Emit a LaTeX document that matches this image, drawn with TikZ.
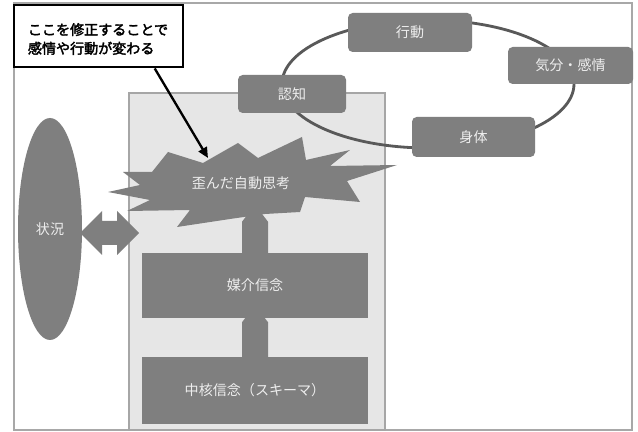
\documentclass[tikz,border=0pt]{standalone}
\usepackage{fontspec}
\newfontfamily\jp{Noto Sans CJK JP}
\newfontfamily\jpb{Noto Sans CJK JP}[FakeBold=2.5]
\usetikzlibrary{shapes.geometric,calc,arrows.meta}
\definecolor{boxgray}{HTML}{7F7F7F}
\definecolor{txtw}{HTML}{EEEEEE}
\definecolor{lightfill}{HTML}{E6E6E6}
\definecolor{lightedge}{HTML}{A6A6A6}
\definecolor{frameedge}{HTML}{A8A8A8}
\definecolor{cycleline}{HTML}{595959}
\begin{document}
\begin{tikzpicture}[x=0.03cm,y=-0.03cm,
  rbox/.style={rectangle,rounded corners=4pt,fill=boxgray,text=txtw,font=\jp\fontsize{12}{14}\selectfont,inner sep=0pt},
  sbox/.style={rectangle,fill=boxgray,text=txtw,font=\jp\fontsize{12}{14}\selectfont,inner sep=0pt,minimum width=226*0.03cm},
  blockarrow/.style={fill=boxgray}]
\useasboundingbox (0,0) rectangle (638,432);
\fill[white] (0,0) rectangle (638,432);
\draw[frameedge,line width=2pt] (14,3) rectangle (632,430);
% light box
\node[draw=lightedge,fill=lightfill,line width=1pt,minimum width=256*0.03cm,minimum height=337*0.03cm,inner sep=0pt] (lbox) at (257,261.5) {};
% cycle
\node[ellipse,draw=cycleline,line width=2.4pt,minimum width=292*0.03cm,minimum height=128*0.03cm,inner sep=0pt] (cyc) at (428,84) {};
\node[rbox,minimum width=108*0.03cm,minimum height=38*0.03cm] (ninchi) at (292,94) {認知};
\node[rbox,minimum width=124*0.03cm,minimum height=39*0.03cm] (koudou) at (410,32.5) {行動};
\node[rbox,minimum width=125*0.03cm,minimum height=37*0.03cm] (kibun) at (570.5,65.5) {気分・感情};
\node[rbox,minimum width=123*0.03cm,minimum height=40*0.03cm] (shintai) at (473.5,137) {身体};
% situation
\node[ellipse,fill=boxgray,text=txtw,font=\jp\fontsize{12}{14}\selectfont,minimum width=64*0.03cm,minimum height=222*0.03cm,inner sep=0pt] (sit) at (50,229) {状況};
% beliefs
\node[sbox,minimum height=65*0.03cm] (mid) at (255,285.5) {媒介信念};
\node[sbox,minimum height=67*0.03cm] (core) at (255,390.5) {中核信念（スキーマ）};
% block arrows
\fill[blockarrow] ($(core.north)+(-13,1)$) -- ($(mid.south)+(-13,4)$) -- ($(mid.south)+(0,-13)$) -- ($(mid.south)+(13,4)$) -- ($(core.north)+(13,1)$) -- cycle;
\fill[blockarrow] ($(mid.north)+(-13,1)$) -- ($(mid.north)+(-13,-31)$) -- ($(mid.north)+(0,-48)$) -- ($(mid.north)+(13,-31)$) -- ($(mid.north)+(13,1)$) -- cycle;
\fill[blockarrow] ($(sit.east)+(-2,4)$) -- ++(22,-22) -- ++(0,10) -- ++(15,0) -- ++(0,-10) -- ++(22,22) -- ++(-22,22) -- ++(0,-10) -- ++(-15,0) -- ++(0,10) -- cycle;
% explosion
\fill[boxgray] (108,192) -- (140,185) -- (123,172) -- (152,172) -- (168,152) -- (203,163) -- (238,143) -- (258,158) -- (302,137) -- (306,160) -- (350,150) -- (330,166) -- (397,165) -- (347,181) -- (360,202) -- (305,197) -- (300,212) -- (265,214) -- (230,219) -- (177,227) -- (190,210) -- (127,211) -- (150,200) -- cycle;
\node[text=txtw,font=\jp\fontsize{12}{14}\selectfont,inner sep=0pt] (thought) at (241,183) {歪んだ自動思考};
% note
\node[draw=black,line width=2.5pt,fill=white,minimum width=169*0.03cm,minimum height=62*0.03cm,inner sep=0pt] (note) at (98.5,36) {};
\node[align=left,font=\jpb\fontsize{12}{16}\selectfont,inner sep=0pt] (notetxt) at (98,39) {ここを修正することで\\感情や行動が変わる};
\coordinate (tgt) at (208,158);
\draw[line width=2pt,-{Triangle[length=9pt,width=8pt]}] (note.-30) -- (tgt);
\end{tikzpicture}
\end{document}
